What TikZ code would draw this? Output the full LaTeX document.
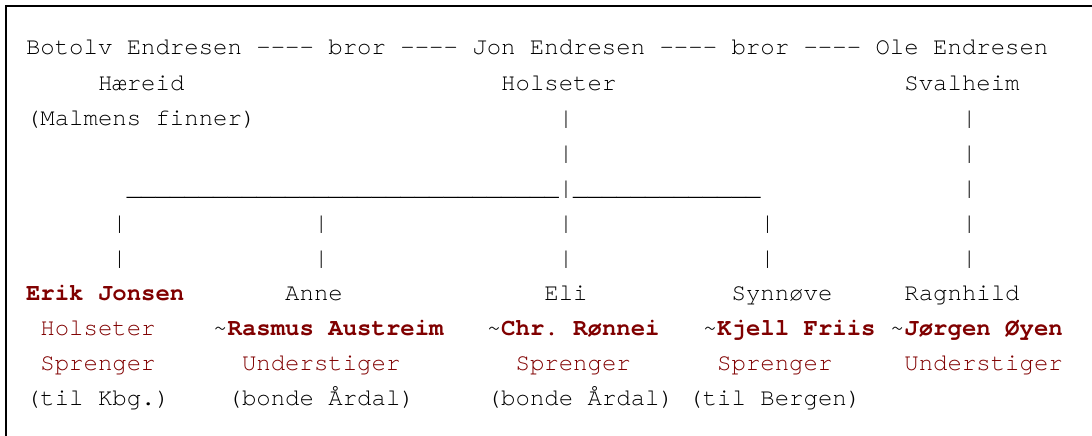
\documentclass[tikz,border=0pt]{standalone}
\usepackage{fontspec}
\newfontfamily\monofam{TeX Gyre Cursor}[Ligatures=NoCommon]
\definecolor{ink}{HTML}{000000}
\definecolor{dred}{HTML}{800000}
\tikzset{
  txt/.style={anchor=base west, inner sep=0pt, outer sep=0pt,
    font=\monofam\frenchspacing\fontsize{24}{24}\selectfont, text=ink},
  redtxt/.style={txt, text=dred},
  boldred/.style={txt, text=dred, font=\monofam\frenchspacing\bfseries\fontsize{24}{24}\selectfont},
  bar/.style={txt},
  frameline/.style={line width=2pt, black}
}
\newcommand{\tl}{\textcolor{ink}{\mdseries\textasciitilde}}
\begin{document}
\begin{tikzpicture}
\useasboundingbox (0pt,-436pt) rectangle (1092pt,0pt);
\draw[frameline] (6pt,-437pt) -- (6pt,-6pt) -- (1093pt,-6pt);
\begin{scope}[shift={(26pt,-55pt)}, x=14.4pt, y=-35pt]
% row 0
\node[txt] (botolv) at (0,0) {Botolv Endresen -{}-{}-{}- bror -{}-{}-{}- Jon Endresen -{}-{}-{}- bror -{}-{}-{}- Ole Endresen};
% row 1
\node[txt] (haereid) at (5,1) {Hæreid};
\node[txt] (holseter) at (33,1) {Holseter};
\node[txt] (svalheim) at (61,1) {Svalheim};
% row 2
\node[txt] (malmens) at (0,2) {(Malmens finner)};
\node[bar] (jb2) at (37,2) {|};
\node[bar] (ob2) at (65,2) {|};
% row 3
\node[bar] (jb3) at (37,3) {|};
\node[bar] (ob3) at (65,3) {|};
% row 4
\node[txt] (ulleft) at (7,4) {\_\_\_\_\_\_\_\_\_\_\_\_\_\_\_\_\_\_\_\_\_\_\_\_\_\_\_\_\_\_};
\node[bar] (jb4) at (37,4) {|};
\node[txt] (ulright) at (38,4) {\_\_\_\_\_\_\_\_\_\_\_\_\_};
\node[bar] (ob4) at (65,4) {|};
% rows 5-6
\foreach \r in {5,6}{
  \foreach \c in {6,20,37,51,65}{
    \node[bar] (b\c-\r) at (\c,\r) {|};
  }
}
% row 7
\node[boldred] (erik) at (0,7) {Erik Jonsen};
\node[txt] (anne) at (18,7) {Anne};
\node[txt] (eli) at (36,7) {Eli};
\node[txt] (synnove) at (49,7) {Synnøve};
\node[txt] (ragnhild) at (61,7) {Ragnhild};
% row 8
\node[redtxt] (erikplace) at (1,8) {Holseter};
\node[boldred] (rasmus) at (13,8) {\tl Rasmus Austreim};
\node[boldred] (chr) at (32,8) {\tl Chr. Rønnei};
\node[boldred] (kjell) at (47,8) {\tl Kjell Friis};
\node[boldred] (jorgen) at (60,8) {\tl Jørgen Øyen};
% row 9
\node[redtxt] (erikjob) at (1,9) {Sprenger};
\node[redtxt] (rasmusjob) at (15,9) {Understiger};
\node[redtxt] (chrjob) at (34,9) {Sprenger};
\node[redtxt] (kjelljob) at (48,9) {Sprenger};
\node[redtxt] (jorgenjob) at (61,9) {Understiger};
% row 10
\node[txt] (eriknote) at (0,10) {(til Kbg.)};
\node[txt] (rasmusnote) at (14,10) {(bonde Årdal)};
\node[txt] (chrnote) at (32,10) {(bonde Årdal)};
\node[txt] (kjellnote) at (46,10) {(til Bergen)};
\end{scope}
\end{tikzpicture}
\end{document}
